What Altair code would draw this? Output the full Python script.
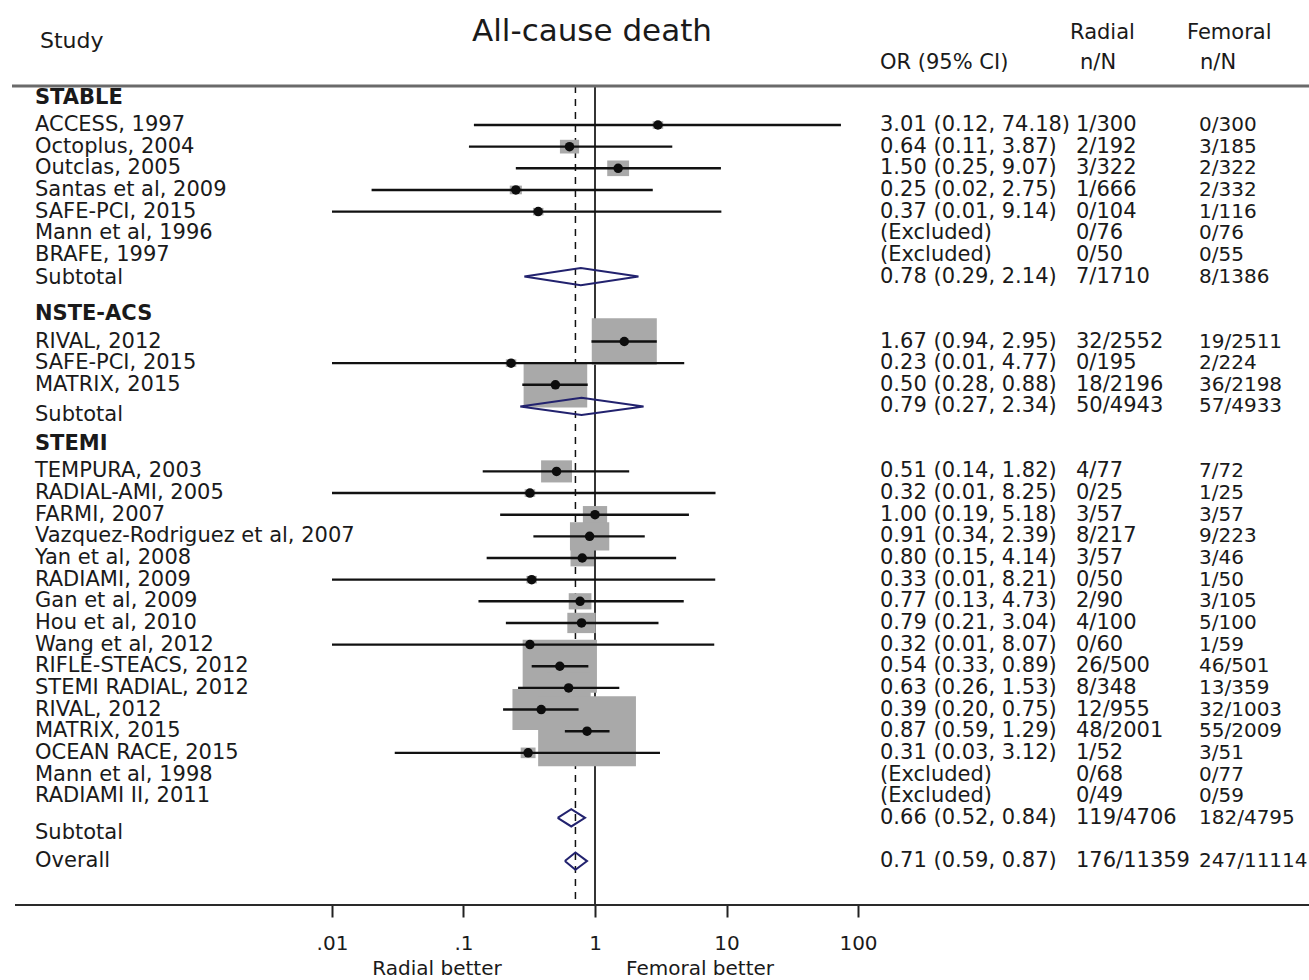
import altair as alt
import pandas as pd

# ---------------- data ----------------
GROUPS = ["STABLE", "NSTE-ACS", "STEMI"]

STABLE_STUDY = ["ACCESS, 1997", "Octoplus, 2004", "Outclas, 2005", "Santas et al, 2009",
                "SAFE-PCI, 2015", "Mann et al, 1996", "BRAFE, 1997"]
STABLE_OR = [3.01, 0.64, 1.50, 0.25, 0.37, None, None]
STABLE_LO = [0.12, 0.11, 0.25, 0.02, 0.01, None, None]
STABLE_HI = [74.18, 3.87, 9.07, 2.75, 9.14, None, None]
STABLE_RAD = ["1/300", "2/192", "3/322", "1/666", "0/104", "0/76", "0/50"]
STABLE_FEM = ["0/300", "3/185", "2/322", "2/332", "1/116", "0/76", "0/55"]
STABLE_W = [0.3, 1.0, 1.3, 0.4, 0.3, 0.0, 0.0]

NSTE_STUDY = ["RIVAL, 2012", "SAFE-PCI, 2015", "MATRIX, 2015"]
NSTE_OR = [1.67, 0.23, 0.50]
NSTE_LO = [0.94, 0.01, 0.28]
NSTE_HI = [2.95, 4.77, 0.88]
NSTE_RAD = ["32/2552", "0/195", "18/2196"]
NSTE_FEM = ["19/2511", "2/224", "36/2198"]
NSTE_W = [11.5, 0.3, 11.0]

STEMI_STUDY = ["TEMPURA, 2003", "RADIAL-AMI, 2005", "FARMI, 2007", "Vazquez-Rodriguez et al, 2007",
               "Yan et al, 2008", "RADIAMI, 2009", "Gan et al, 2009", "Hou et al, 2010",
               "Wang et al, 2012", "RIFLE-STEACS, 2012", "STEMI RADIAL, 2012", "RIVAL, 2012",
               "MATRIX, 2015", "OCEAN RACE, 2015", "Mann et al, 1998", "RADIAMI II, 2011"]
STEMI_OR = [0.51, 0.32, 1.00, 0.91, 0.80, 0.33, 0.77, 0.79, 0.32, 0.54, 0.63, 0.39, 0.87, 0.31, None, None]
STEMI_LO = [0.14, 0.01, 0.19, 0.34, 0.15, 0.01, 0.13, 0.21, 0.01, 0.33, 0.26, 0.20, 0.59, 0.03, None, None]
STEMI_HI = [1.82, 8.25, 5.18, 2.39, 4.14, 8.21, 4.73, 3.04, 8.07, 0.89, 1.53, 0.75, 1.29, 3.12, None, None]
STEMI_RAD = ["4/77", "0/25", "3/57", "8/217", "3/57", "0/50", "2/90", "4/100", "0/60", "26/500",
             "8/348", "12/955", "48/2001", "1/52", "0/68", "0/49"]
STEMI_FEM = ["7/72", "1/25", "3/57", "9/223", "3/46", "1/50", "3/105", "5/100", "1/59", "46/501",
             "13/359", "32/1003", "55/2009", "3/51", "0/77", "0/59"]
STEMI_W = [2.6, 0.3, 1.6, 4.2, 1.5, 0.3, 1.4, 2.2, 0.3, 15.0, 5.3, 9.0, 26.0, 0.6, 0.0, 0.0]

SUB_OR = [0.78, 0.79, 0.66]
SUB_LO = [0.29, 0.27, 0.52]
SUB_HI = [2.14, 2.34, 0.84]
SUB_RAD = ["7/1710", "50/4943", "119/4706"]
SUB_FEM = ["8/1386", "57/4933", "182/4795"]

OVERALL = [0.71, 0.59, 0.87]
OVERALL_RAD = "176/11359"
OVERALL_FEM = "247/11114"

TICK_VALUES = [0.01, 0.1, 1, 10, 100]
TICK_LABELS = [".01", ".1", "1", "10", "100"]

# ---------------- layout / style constants ----------------
W, H = 1309, 905
ROW0_PX, ROW_PX = 125.0, 21.65
DEC_PX, X01_PX = 131.5, 332.0
L = -2 - X01_PX / DEC_PX
R = L + W / DEC_PX
HEADER_OFF = -1.25
SUB_LABEL_OFF = [0.05, 0.4, 0.7]
DH = 0.40  # diamond half height in rows
FONT = "DejaVu Sans"
TXT = "#1a1a1a"
FS = 21
FS_R = 20

# ---------------- build tables ----------------
group_data = [
    (STABLE_STUDY, STABLE_OR, STABLE_LO, STABLE_HI, STABLE_RAD, STABLE_FEM, STABLE_W),
    (NSTE_STUDY, NSTE_OR, NSTE_LO, NSTE_HI, NSTE_RAD, NSTE_FEM, NSTE_W),
    (STEMI_STUDY, STEMI_OR, STEMI_LO, STEMI_HI, STEMI_RAD, STEMI_FEM, STEMI_W),
]


def ci_text(o, lo, hi):
    if o is None:
        return "(Excluded)"
    return f"{o:.2f} ({lo:.2f}, {hi:.2f})"


studies, labels, heads, rtext, diam = [], [], [], [], []
r = 0
for gi, (names, ors, los, his, rads, fems, ws) in enumerate(group_data):
    heads.append({"t": GROUPS[gi], "row": r + HEADER_OFF})
    for n, o, lo, hi, ra, fe, w in zip(names, ors, los, his, rads, fems, ws):
        labels.append({"t": n, "row": r})
        rtext.append({"ci": ci_text(o, lo, hi), "rad": ra, "fem": fe, "row": r})
        if o is not None:
            studies.append({"or": o, "lo": lo, "hi": hi, "w": w, "row": r})
        r += 1
    labels.append({"t": "Subtotal", "row": r + SUB_LABEL_OFF[gi]})
    rtext.append({"ci": ci_text(SUB_OR[gi], SUB_LO[gi], SUB_HI[gi]), "rad": SUB_RAD[gi],
                  "fem": SUB_FEM[gi], "row": r})
    for k, (xv, dy) in enumerate([(SUB_LO[gi], 0), (SUB_OR[gi], -DH), (SUB_HI[gi], 0),
                                   (SUB_OR[gi], DH), (SUB_LO[gi], 0)]):
        diam.append({"g": GROUPS[gi], "k": k, "x": xv, "y": r + dy})
    r += 3
r_over = r - 1
labels.append({"t": "Overall", "row": r_over})
rtext.append({"ci": ci_text(*OVERALL), "rad": OVERALL_RAD, "fem": OVERALL_FEM, "row": r_over})
for k, (xv, dy) in enumerate([(OVERALL[1], 0), (OVERALL[0], -DH), (OVERALL[2], 0),
                               (OVERALL[0], DH), (OVERALL[1], 0)]):
    diam.append({"g": "Overall", "k": k, "x": xv, "y": r_over + dy})

studies = pd.DataFrame(studies)
labels = pd.DataFrame(labels)
heads = pd.DataFrame(heads)
rtext = pd.DataFrame(rtext)
diam = pd.DataFrame(diam)

# ---------------- scales ----------------
xs = alt.Scale(type="log", domain=[10 ** L, 10 ** R], nice=False)
ys = alt.Scale(domain=[-ROW0_PX / ROW_PX, (H - ROW0_PX) / ROW_PX], reverse=True, nice=False, zero=False)

label_expr = " : ".join(
    [f"datum.value == {v} ? '{t}'" for v, t in zip(TICK_VALUES, TICK_LABELS)]) + " : ''"
xaxis = alt.Axis(values=TICK_VALUES, labelExpr=label_expr, domain=False, grid=False, title=None,
                 tickSize=12, tickWidth=2, tickColor="#222222", labelFont=FONT, labelFontSize=20,
                 labelColor=TXT, labelPadding=16, labelFlush=False, labelOverlap=False)

X = lambda f: alt.X(f, scale=xs, axis=xaxis)
Y = lambda f: alt.Y(f, scale=ys, axis=None)

ref = pd.DataFrame({"v": [1.0]})
ovr = pd.DataFrame({"v": [OVERALL[0]]})

ref_solid = alt.Chart(ref).mark_rule(color="#111111", strokeWidth=1.7).encode(
    x=X("v:Q"), y=alt.value(86), y2=alt.value(905))
ref_dash = alt.Chart(ovr).mark_rule(color="#111111", strokeWidth=1.5, strokeDash=[7, 6]).encode(
    x=X("v:Q"), y=alt.value(86), y2=alt.value(905))

boxes = alt.Chart(studies).mark_point(
    shape="M-1.4,-1L1.4,-1L1.4,1L-1.4,1Z", filled=True, color="#a9a9a9", opacity=1, strokeWidth=0
).encode(x=X("or:Q"), y=Y("row:Q"),
         size=alt.Size("w:Q", scale=alt.Scale(domain=[0, 26], range=[0, 4880]), legend=None))

ci = alt.Chart(studies).mark_rule(color="#111111", strokeWidth=2.4).encode(
    x=X("lo:Q"), x2="hi:Q", y=Y("row:Q"))

dots = alt.Chart(studies).mark_circle(color="#0d0d0d", size=90, opacity=1).encode(
    x=X("or:Q"), y=Y("row:Q"))

diamonds = alt.Chart(diam).mark_line(color="#22226e", strokeWidth=2).encode(
    x=X("x:Q"), y=Y("y:Q"), detail="g:N", order="k:Q")

top_line = alt.Chart(ref).mark_rule(color="#6a6a6a", strokeWidth=3).encode(
    x=alt.value(12), x2=alt.value(W), y=alt.value(86))
bottom_line = alt.Chart(ref).mark_rule(color="#2a2a2a", strokeWidth=2).encode(
    x=alt.value(15), x2=alt.value(W), y=alt.value(905))

left_labels = alt.Chart(labels).mark_text(align="left", baseline="middle", font=FONT,
                                          fontSize=FS, color=TXT).encode(
    x=alt.value(35), y=Y("row:Q"), text="t:N")
head_labels = alt.Chart(heads).mark_text(align="left", baseline="middle", font=FONT,
                                         fontSize=FS, fontWeight="bold", color=TXT).encode(
    x=alt.value(35), y=Y("row:Q"), text="t:N")

ci_col = alt.Chart(rtext).mark_text(align="left", baseline="middle", font=FONT, fontSize=FS,
                                    color=TXT).encode(x=alt.value(880), y=Y("row:Q"), text="ci:N")
rad_col = alt.Chart(rtext).mark_text(align="left", baseline="middle", font=FONT, fontSize=FS,
                                     color=TXT).encode(x=alt.value(1076), y=Y("row:Q"), text="rad:N")
fem_col = alt.Chart(rtext).mark_text(align="left", baseline="middle", font=FONT, fontSize=FS_R,
                                     color=TXT).encode(x=alt.value(1199), y=Y("row:Q"), text="fem:N")


def txt(t, x, y, size=FS, align="left"):
    return alt.Chart(pd.DataFrame({"t": [t]})).mark_text(
        align=align, baseline="middle", font=FONT, fontSize=size, color=TXT).encode(
        text="t:N", x=alt.value(x), y=alt.value(y))


title = txt("All-cause death", 592, 32, 31, "center")
h_study = txt("Study", 40, 41, 22)
h_or = txt("OR (95% CI)", 880, 63, 21)
h_rad1 = txt("Radial", 1070, 33, 21)
h_rad2 = txt("n/N", 1080, 63, 21)
h_fem1 = txt("Femoral", 1187, 33, 21)
h_fem2 = txt("n/N", 1200, 63, 21)
f_rad = txt("Radial better", 437, 969, 20, "center")
f_fem = txt("Femoral better", 700, 969, 20, "center")

chart = alt.layer(
    ref_solid, ref_dash, boxes, ci, dots, diamonds, top_line, bottom_line,
    left_labels, head_labels, ci_col, rad_col, fem_col,
    title, h_study, h_or, h_rad1, h_rad2, h_fem1, h_fem2, f_rad, f_fem,
).properties(
    width=W, height=H, autosize="none",
    padding={"left": 0, "top": 0, "right": 0, "bottom": 75},
    background="white",
).configure_view(strokeWidth=0)

chart.save("out.html", embed_options={"renderer": "svg", "actions": False})
